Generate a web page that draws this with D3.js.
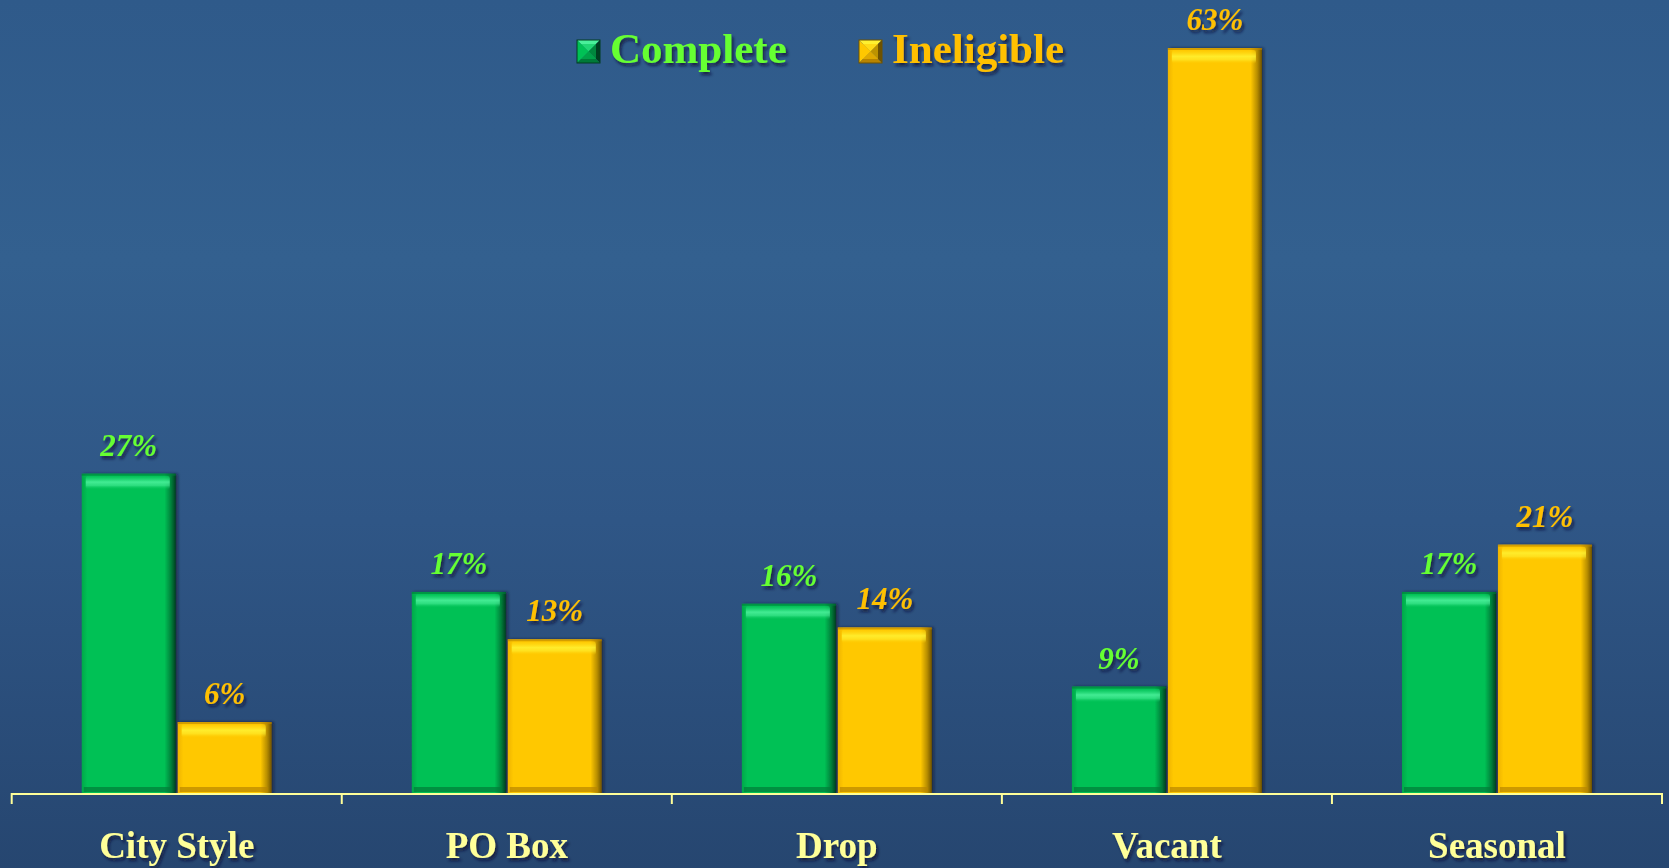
<!DOCTYPE html>
<html>
<head>
<meta charset="utf-8">
<script src="https://cdn.jsdelivr.net/npm/d3@7"></script>
<style>
  html, body { margin: 0; padding: 0; background: #2c5282; }
  svg { display: block; }
</style>
</head>
<body>
<svg id="chart" width="1669" height="868"></svg>
<script>
// Address types and the share of each outcome (%)
const categories = ["City Style", "PO Box", "Drop", "Vacant", "Seasonal"];
const seriesNames = ["Complete", "Ineligible"];
const completeValues = [27, 17, 16, 9, 17];
const ineligibleValues = [6, 13, 14, 63, 21];

const W = 1669, H = 868;
const svg = d3.select("#chart");
const defs = svg.append("defs");

// Background: blue vertical gradient
const bg = defs.append("linearGradient").attr("id", "bg").attr("x1", 0).attr("y1", 0).attr("x2", 0).attr("y2", 1);
[[0, "#2f5a8a"], [0.3, "#33608f"], [0.6, "#2f5686"], [1, "#264670"]].forEach(([o, c]) =>
  bg.append("stop").attr("offset", o).attr("stop-color", c));
svg.append("rect").attr("width", W).attr("height", H).attr("fill", "url(#bg)");

// Text shadow
const ts = defs.append("filter").attr("id", "tshadow").attr("x", "-20%").attr("y", "-20%").attr("width", "140%").attr("height", "160%");
ts.append("feDropShadow").attr("dx", 2).attr("dy", 3).attr("stdDeviation", 1.5)
  .attr("flood-color", "#0a1830").attr("flood-opacity", 0.75);

// Bar shadow
const bs = defs.append("filter").attr("id", "bshadow").attr("x", "-10%").attr("y", "-5%").attr("width", "130%").attr("height", "110%");
bs.append("feDropShadow").attr("dx", 2).attr("dy", 0).attr("stdDeviation", 1.5)
  .attr("flood-color", "#071428").attr("flood-opacity", 0.6);

// Bevelled bar styles per series
const palette = {
  Complete:   { main: "#00c155", left: "#00a84a", right: "#003f20", top: "#4af09a", bottom: "#007a38", text: "#66ff33" },
  Ineligible: { main: "#ffc800", left: "#f0b400", right: "#6e5200", top: "#fff030", bottom: "#b88400", text: "#ffc000" }
};

seriesNames.forEach(s => {
  const p = palette[s];
  const h = defs.append("linearGradient").attr("id", "h-" + s).attr("x1", 0).attr("y1", 0).attr("x2", 1).attr("y2", 0);
  [[0, p.left], [0.06, p.main], [0.88, p.main], [0.95, d3.interpolateRgb(p.main, p.right)(0.5)], [1, p.right]]
    .forEach(([o, c]) => h.append("stop").attr("offset", o).attr("stop-color", c));
  const t = defs.append("linearGradient").attr("id", "t-" + s).attr("x1", 0).attr("y1", 0).attr("x2", 0).attr("y2", 1);
  [[0, p.main, 0.6], [0.45, p.top, 0.9], [0.7, p.top, 0.6], [1, p.main, 0]]
    .forEach(([o, c, a]) => t.append("stop").attr("offset", o).attr("stop-color", c).attr("stop-opacity", a));
});

// Scales
const x0 = d3.scaleBand().domain(categories).range([11.7, 1662]);
const groupW = 190;
const x1 = d3.scaleBand().domain(seriesNames).range([0, groupW]).paddingInner(0.02);
const baseY = 793;
const y = d3.scaleLinear().domain([0, 63]).range([baseY, 48]);

const rows = categories.map((c, i) => ({
  category: c,
  values: [
    { series: "Complete", value: completeValues[i] },
    { series: "Ineligible", value: ineligibleValues[i] }
  ]
}));

const groups = svg.append("g").selectAll("g.grp").data(rows).join("g")
  .attr("class", "grp")
  .attr("transform", d => `translate(${x0(d.category) + (x0.bandwidth() - groupW) / 2},0)`);

const bars = groups.selectAll("g.bar").data(d => d.values).join("g").attr("class", "bar");

bars.append("rect")
  .attr("x", d => x1(d.series))
  .attr("y", d => y(d.value))
  .attr("width", x1.bandwidth())
  .attr("height", d => baseY - y(d.value))
  .attr("fill", d => `url(#h-${d.series})`)
  .attr("filter", "url(#bshadow)");

// top highlight strip
bars.append("rect")
  .attr("x", d => x1(d.series) + 4)
  .attr("y", d => y(d.value) + 2)
  .attr("width", x1.bandwidth() - 10)
  .attr("height", 14)
  .attr("rx", 3)
  .attr("fill", d => `url(#t-${d.series})`);

// top rim
bars.append("rect")
  .attr("x", d => x1(d.series))
  .attr("y", d => y(d.value))
  .attr("width", x1.bandwidth())
  .attr("height", 2)
  .attr("fill", d => palette[d.series].bottom)
  .attr("opacity", 0.6);

// bottom dark strip
bars.append("rect")
  .attr("x", d => x1(d.series) + 2)
  .attr("y", baseY - 6)
  .attr("width", x1.bandwidth() - 6)
  .attr("height", 5)
  .attr("fill", d => palette[d.series].bottom)
  .attr("opacity", 0.7);

// value labels
bars.append("text")
  .attr("x", d => x1(d.series) + x1.bandwidth() / 2)
  .attr("y", d => y(d.value) - 18)
  .attr("text-anchor", "middle")
  .attr("font-family", "'Liberation Serif', 'DejaVu Serif', serif")
  .attr("font-weight", "bold")
  .attr("font-style", "italic")
  .attr("font-size", 31)
  .attr("fill", d => palette[d.series].text)
  .attr("filter", "url(#tshadow)")
  .text(d => d.value + "%");

// Category axis
const axisColor = "#ffff99";
const axisG = svg.append("g");
axisG.append("line")
  .attr("x1", x0.range()[0]).attr("x2", x0.range()[1])
  .attr("y1", baseY + 1).attr("y2", baseY + 1)
  .attr("stroke", axisColor).attr("stroke-width", 2);
const tickXs = categories.map(c => x0(c)).concat([x0.range()[1]]);
axisG.selectAll("line.tick").data(tickXs).join("line")
  .attr("class", "tick")
  .attr("x1", d => d).attr("x2", d => d)
  .attr("y1", baseY).attr("y2", baseY + 11)
  .attr("stroke", axisColor).attr("stroke-width", 2);
axisG.selectAll("text").data(categories).join("text")
  .attr("x", d => x0(d) + x0.bandwidth() / 2)
  .attr("y", 858)
  .attr("text-anchor", "middle")
  .attr("font-family", "'Liberation Serif', 'DejaVu Serif', serif")
  .attr("font-weight", "bold")
  .attr("font-size", 37)
  .attr("fill", axisColor)
  .attr("filter", "url(#tshadow)")
  .text(d => d);

// Legend with pyramid-bevelled swatches
const legendX = [577, 859];
const sw = 23;
const legend = svg.append("g").selectAll("g").data(seriesNames).join("g")
  .attr("transform", (d, i) => `translate(${legendX[i]},40)`);
const facets = [
  { pts: [[0, 0], [sw, 0], [sw / 2, sw / 2]], key: "top" },
  { pts: [[0, 0], [sw / 2, sw / 2], [0, sw]], key: "main" },
  { pts: [[sw, 0], [sw, sw], [sw / 2, sw / 2]], key: "right" },
  { pts: [[0, sw], [sw / 2, sw / 2], [sw, sw]], key: "bottom" }
];
legend.each(function (s) {
  const g = d3.select(this);
  g.selectAll("path").data(facets).join("path")
    .attr("d", f => d3.line()(f.pts) + "Z")
    .attr("fill", f => palette[s][f.key]);
  g.append("rect").attr("x", 4).attr("y", 4).attr("width", sw - 8).attr("height", sw - 8)
    .attr("fill", palette[s].main).attr("opacity", 0.55);
  g.append("rect").attr("width", sw).attr("height", sw)
    .attr("fill", "none").attr("stroke", palette[s].right).attr("stroke-width", 1);
});
legend.append("text")
  .attr("x", 33).attr("y", 23)
  .attr("font-family", "'Liberation Serif', 'DejaVu Serif', serif")
  .attr("font-weight", "bold")
  .attr("font-size", 43)
  .attr("fill", d => palette[d].text)
  .attr("filter", "url(#tshadow)")
  .text(d => d);
</script>
</body>
</html>
